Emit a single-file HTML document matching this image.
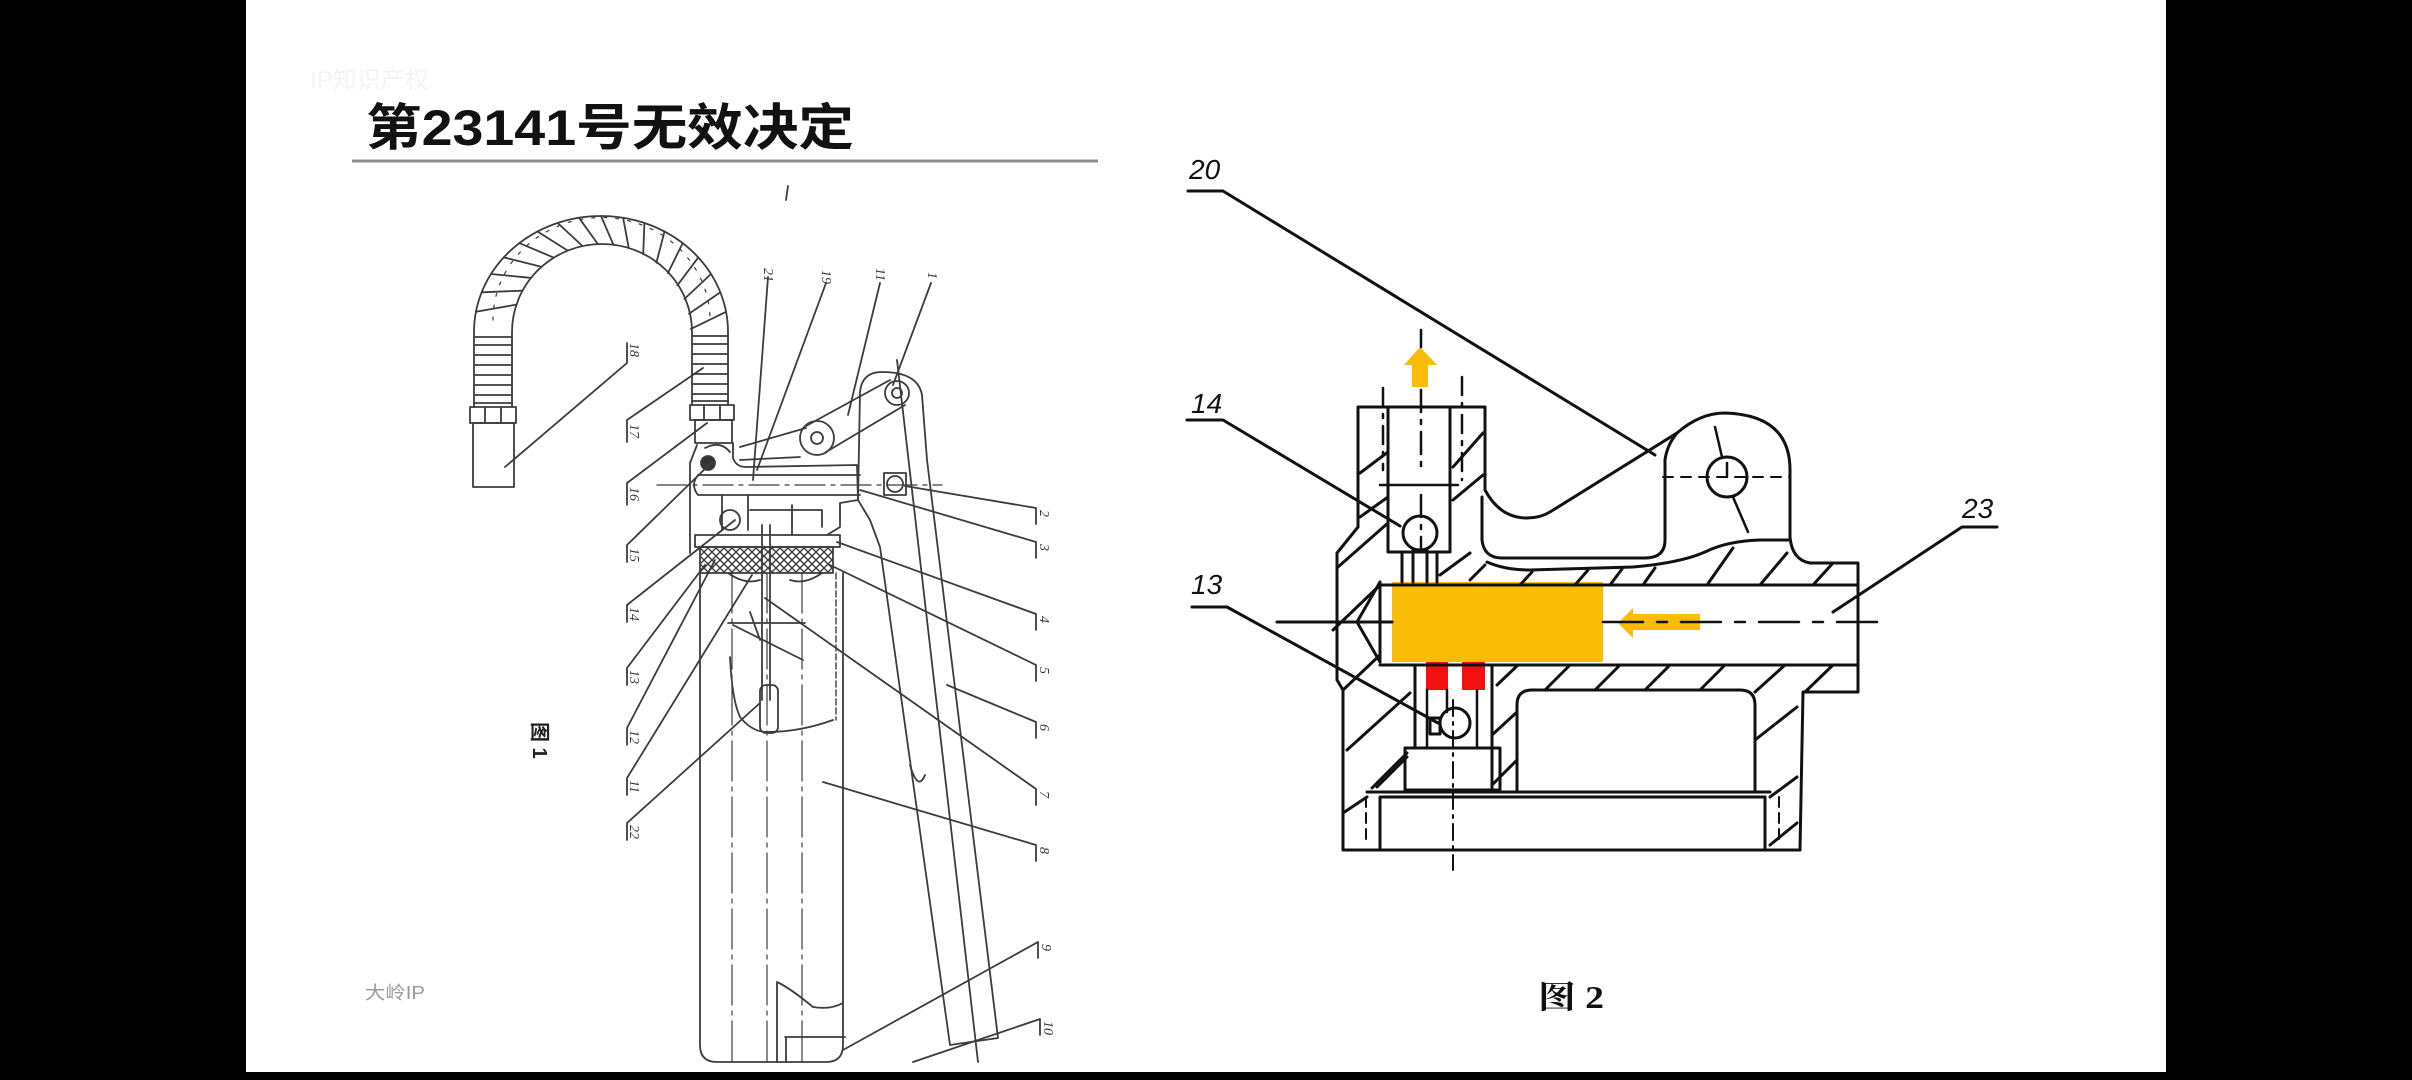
<!DOCTYPE html>
<html><head><meta charset="utf-8">
<style>
html,body{margin:0;padding:0;background:#000;}
body{width:2412px;height:1080px;overflow:hidden;position:relative;}
svg{position:absolute;left:0;top:0;}
</style></head><body>
<svg width="2412" height="1080" viewBox="0 0 2412 1080" xmlns="http://www.w3.org/2000/svg">
<defs>
<pattern id="xh" width="8" height="8" patternUnits="userSpaceOnUse"><path d="M0,0 L8,8 M8,0 L0,8" stroke="#3a3a3a" stroke-width="1.4" fill="none"/></pattern>
</defs>
<rect x="0" y="0" width="2412" height="1080" fill="#000"/>
<rect x="246" y="0" width="1920" height="1072" fill="#fff"/>

<!-- watermark -->
<text x="310" y="88" font-size="24" fill="#f3f3f3" font-family="'Liberation Sans','Noto Sans CJK SC',sans-serif">IP知识产权</text>

<!-- title -->
<text x="366" y="145" font-size="50" font-weight="bold" textLength="488" lengthAdjust="spacingAndGlyphs" fill="#111" font-family="'Liberation Sans','Noto Sans CJK SC',sans-serif">第23141号无效决定</text>
<line x1="352" y1="161" x2="1098" y2="161" stroke="#8c8c8c" stroke-width="3"/>

<!-- ================= LEFT FIGURE ================= -->
<g stroke="#3c3c3c" stroke-width="1.8" fill="none" stroke-linecap="round" stroke-linejoin="round">
  <!-- hose arc -->
  <path d="M474,332 A127,116 0 0 1 728,332"/>
  <path d="M512,332 A90,88 0 0 1 692,332"/>
  <path d="M475.9,311.8 L515.4,304.8 M481.7,292.3 L521.5,290.7 M491,274 L530.1,277.8 M503.7,257.4 L540.8,266.6 M519.3,243.1 L553.3,257.4 M537.5,231.5 L567.3,250.4 M557.6,222.9 L582.3,245.9 M578.9,217.7 L597.9,244.1 M601,216 L613.5,244.9 M623.1,217.7 L628.8,248.3 M644.4,222.9 L643.2,254.3 M664.5,231.5 L656.4,262.7 M682.7,243.1 L667.9,273.1 M698.3,257.4 L677.3,285.4 M711,274 L684.4,299 M720.4,292.3 L689,313.7 M726.1,311.8 L690.9,328.9"/>
  <path d="M493,320 A108,102 0 0 1 710,320" stroke-dasharray="3 9" stroke-width="1.2"/>
  <!-- left leg ribs -->
  <path d="M474,332 L474,407 M512,332 L512,407"/>
  <path d="M474,337 H512 M474,345 H512 M474,355 H512 M474,365 H512 M474,375 H512 M474,385 H512 M474,395 H512 M474,403 H512"/>
  <rect x="470" y="407" width="46" height="16"/>
  <path d="M485,407 V423 M501,407 V423"/>
  <rect x="473" y="423" width="41" height="64"/>
  <!-- right leg ribs -->
  <path d="M692,332 L692,405 M728,332 L728,405"/>
  <path d="M692,336 H728 M692,344 H728 M692,354 H728 M692,364 H728 M692,374 H728 M692,384 H728 M692,394 H728 M692,401 H728"/>
  <rect x="690" y="405" width="44" height="15"/>
  <path d="M704,405 V420 M720,405 V420"/>
  <rect x="695" y="420" width="37" height="23"/>
  <!-- pump head -->
  <path d="M697,445 L690,463 L690,553"/>
  <path d="M733,443 L733,458 Q736,467 746,467 L857,465 L858,500 L840,503 L840,527 L827,535"/>
  <path d="M740,447 L806,428"/>
  <path d="M740,460 L800,457"/>
  <circle cx="817" cy="438" r="17"/>
  <circle cx="817" cy="438" r="6"/>
  <path d="M806,426 L890,380 M826,452 L905,405"/>
  <circle cx="897" cy="393" r="12"/>
  <circle cx="897" cy="393" r="5"/>
  <!-- bore -->
  <path d="M698,475 H860 M698,495 H860 M698,475 Q690,485 698,495"/>
  <path d="M657,485 H942" stroke-dasharray="30 6 4 6" stroke-width="1.3"/>
  <circle cx="895" cy="484" r="8"/>
  <rect x="884" y="473" width="22" height="22"/>
  <circle cx="708" cy="463" r="7" fill="#333"/>
  <path d="M705,448 Q720,440 730,452"/>
  <!-- lower head -->
  <path d="M750,510 H822 V527 M722,495 V530 M748,495 V530 M792,505 V535"/>
  <circle cx="730" cy="520" r="10"/>
  <rect x="695" y="535" width="145" height="12"/>
  <rect x="700" y="547" width="133" height="26" fill="url(#xh)"/>
  <path d="M728,573 Q745,585 760,580 M790,580 Q805,585 822,573"/>
  <!-- barrel -->
  <path d="M700,573 L700,1045 Q700,1062 717,1062 L826,1062 Q843,1062 843,1045 L843,573"/>
  <path d="M732,573 V1062 M767,573 V1062 M802,573 V1062" stroke-dasharray="40 6 4 6" stroke-width="1.2"/>
  <path d="M836,573 V720" stroke-dasharray="6 3" stroke-width="1.4"/>
  <!-- follower / rod -->
  <path d="M762,525 V700 M770,525 V700"/>
  <rect x="760" y="685" width="18" height="48" rx="6"/>
  <path d="M728,623 H805 M733,625 L803,660 M750,612 L760,640"/>
  <path d="M730,657 Q732,700 740,717 Q752,732 767,732 Q800,732 833,720"/>
  <path d="M777,982 Q790,988 813,1007 Q830,1010 843,1003 M777,982 V1062"/>
  <path d="M785,1037 H845 M786,1037 V1062"/>
  <!-- handle -->
  <path d="M858,500 L860,392 Q862,372 882,372 Q918,372 922,395 L927,460 L998,1038 L950,1045 L880,547 L870,520 Z"/>
  <path d="M897,360 L978,1062"/>
  <path d="M910,765 Q918,792 925,775"/>
  <!-- top labels leaders -->
  <path d="M768,277 L753,480 M826,283 L757,470 M880,283 L848,415 M931,283 L893,385"/>
  <path d="M788,186 L786,200"/>
  <!-- right column leaders -->
  <path d="M1036,508 L905,486 M1036,508 V524"/>
  <path d="M1036,542 L860,490 M1036,542 V558"/>
  <path d="M1036,614 L837,542 M1036,614 V630"/>
  <path d="M1036,665 L830,565 M1036,665 V681"/>
  <path d="M1036,722 L947,685 M1036,722 V738"/>
  <path d="M1036,789 L765,598 M1036,789 V805"/>
  <path d="M1036,845 L823,782 M1036,845 V861"/>
  <path d="M1038,942 L843,1050 M1038,942 V958"/>
  <path d="M1040,1019 L913,1062 M1040,1019 V1035"/>
  <!-- left column leaders -->
  <path d="M627,363 L505,467 M627,343 V363"/>
  <path d="M627,420 L703,368 M627,420 V442"/>
  <path d="M627,483 L707,423 M627,483 V505"/>
  <path d="M627,545 L712,462 M627,545 V562"/>
  <path d="M627,605 L735,520 M627,605 V622"/>
  <path d="M627,668 L705,565 M627,668 V685"/>
  <path d="M627,728 L715,560 M627,728 V745"/>
  <path d="M627,778 L752,575 M627,778 V795"/>
  <path d="M627,823 L760,703 M627,823 V840"/>
</g>
<g fill="#3c3c3c" font-size="14" font-family="'Liberation Serif',serif" font-style="italic">
  <text transform="rotate(90 630 343)" x="630" y="343">18</text>
  <text transform="rotate(90 630 424)" x="630" y="424">17</text>
  <text transform="rotate(90 630 487)" x="630" y="487">16</text>
  <text transform="rotate(90 630 548)" x="630" y="548">15</text>
  <text transform="rotate(90 630 607)" x="630" y="607">14</text>
  <text transform="rotate(90 630 670)" x="630" y="670">13</text>
  <text transform="rotate(90 630 730)" x="630" y="730">12</text>
  <text transform="rotate(90 630 780)" x="630" y="780">11</text>
  <text transform="rotate(90 630 825)" x="630" y="825">22</text>
  <text transform="rotate(90 1040 510)" x="1040" y="510">2</text>
  <text transform="rotate(90 1040 544)" x="1040" y="544">3</text>
  <text transform="rotate(90 1040 616)" x="1040" y="616">4</text>
  <text transform="rotate(90 1040 667)" x="1040" y="667">5</text>
  <text transform="rotate(90 1040 724)" x="1040" y="724">6</text>
  <text transform="rotate(90 1040 791)" x="1040" y="791">7</text>
  <text transform="rotate(90 1040 847)" x="1040" y="847">8</text>
  <text transform="rotate(90 1042 944)" x="1042" y="944">9</text>
  <text transform="rotate(90 1044 1021)" x="1044" y="1021">10</text>
  <text transform="rotate(90 764 268)" x="764" y="268">21</text>
  <text transform="rotate(90 822 270)" x="822" y="270">19</text>
  <text transform="rotate(90 876 268)" x="876" y="268">11</text>
  <text transform="rotate(90 928 272)" x="928" y="272">1</text>
</g>
<text transform="rotate(90 533 722)" x="533" y="722" font-size="20" font-weight="bold" fill="#222" font-family="'Liberation Sans','Noto Sans CJK SC',sans-serif">图 1</text>
<text x="365" y="999" font-size="18" fill="#9a9a9a" textLength="60" lengthAdjust="spacingAndGlyphs" font-family="'Liberation Sans','Noto Sans CJK SC',sans-serif">大岭IP</text>

<!-- ================= RIGHT FIGURE ================= -->
<rect x="1392" y="582" width="211" height="80" fill="#FBBC05"/>
<rect x="1426" y="662" width="22" height="28" fill="#F21010"/>
<rect x="1462" y="662" width="23" height="28" fill="#F21010"/>
<polygon points="1412,387 1428,387 1428,365 1437,365 1420,347 1404,365 1412,365" fill="#FBBC05"/>
<polygon points="1700,614 1633,614 1633,608 1618,623 1633,638 1633,630 1700,630" fill="#FBBC05"/>

<g stroke="#111" stroke-width="3" fill="none" stroke-linecap="round" stroke-linejoin="round">
  <path d="M1188,191 H1223 L1655,455"/>
  <path d="M1187,420 H1223 L1400,526"/>
  <path d="M1192,607 H1227 L1438,723"/>
  <path d="M1997,527 H1962 L1833,612"/>
  <path d="M1358,527 L1358,407 L1485,407 L1485,490"/>
  <path d="M1388,407 V552 H1450 V407"/>
  <path d="M1380,485 H1458" stroke-width="2.5"/>
  <path d="M1360,473 L1388,452 M1360,517 L1388,497 M1453,467 L1483,433 M1453,500 L1483,475"/>
  <path d="M1383,388 V470 M1462,377 V480" stroke-dasharray="18 8 4 8" stroke-width="2.5"/>
  <path d="M1421,330 V347 M1421,390 V470 M1421,495 V552" stroke-dasharray="22 8 4 8" stroke-width="2.5"/>
  <circle cx="1420" cy="533" r="17"/>
  <path d="M1402,552 V582 M1413,550 V582 M1427,550 V582 M1437,552 V582"/>
  <path d="M1358,527 L1337,553 L1337,680 L1343,690 L1343,850 L1800,850"/>
  <path d="M1338,567 L1388,523 M1333,630 L1380,585 M1343,690 L1380,655 M1347,750 L1410,693 M1372,788 L1407,753 M1343,813 L1367,797"/>
  <path d="M1380,585 H1858 M1380,665 H1858 M1380,582 V662 M1380,582 L1357,622 L1380,662"/>
  <path d="M1277,622 H1392"/>
  <path d="M1603,622 H1887" stroke-dasharray="40 14 10 14" stroke-width="2.5"/>
  <path d="M1485,490 Q1500,518 1527,518 Q1540,518 1550,512 L1677,433 Q1700,413 1725,413 Q1790,415 1790,470 L1790,537 Q1792,560 1810,563 L1858,563 L1858,692 L1803,692 L1800,850"/>
  <path d="M1482,497 V540 Q1484,558 1502,558 L1645,558 Q1665,558 1665,540 L1665,460 Q1667,445 1677,433"/>
  <path d="M1487,562 Q1505,570 1530,570 L1633,567 Q1680,563 1705,552 Q1727,541 1760,540 L1790,540"/>
  <circle cx="1727" cy="477" r="20"/>
  <path d="M1715,427 L1722,457 M1733,497 L1748,532 M1727,463 V477" stroke-width="2.5"/>
  <path d="M1663,477 H1790" stroke-dasharray="10 8" stroke-width="2"/>
  <path d="M1520,585 L1532,572 M1575,585 L1588,570 M1610,585 L1622,569 M1643,585 L1655,568 M1707,585 L1733,548 M1760,585 L1787,553 M1813,585 L1833,563 M1470,580 L1485,565 M1440,575 L1470,553"/>
  <path d="M1497,685 L1518,665 M1545,690 L1570,665 M1595,690 L1620,665 M1645,690 L1670,665 M1700,690 L1725,665 M1755,692 L1785,665 M1805,692 L1833,665"/>
  <path d="M1415,665 V748 M1492,665 V790"/>
  <path d="M1427,690 V748 M1447,690 V712 M1477,690 V748" stroke-width="2.5"/>
  <circle cx="1455" cy="723" r="15"/>
  <rect x="1430" y="718" width="10" height="16"/>
  <rect x="1405" y="748" width="95" height="42"/>
  <path d="M1377,787 L1407,757 M1492,735 L1517,712 M1492,785 L1517,760"/>
  <path d="M1453,700 V870" stroke-dasharray="16 6 3 6" stroke-width="2"/>
  <path d="M1517,790 L1517,705 Q1517,690 1532,690 L1740,690 Q1755,690 1755,705 L1755,792"/>
  <path d="M1755,740 L1797,707 M1770,797 L1797,777 M1770,845 L1797,823"/>
  <path d="M1367,792 H1770 M1380,797 H1765 M1380,797 V850 M1765,797 V850"/>
  <path d="M1366,797 V845 M1779,797 V845" stroke-dasharray="10 6" stroke-width="2"/>
</g>
<g fill="#111" font-size="28" font-style="italic" font-family="'Liberation Sans',sans-serif">
  <text x="1189" y="179">20</text>
  <text x="1191" y="413">14</text>
  <text x="1191" y="594">13</text>
  <text x="1962" y="518">23</text>
</g>
<text x="1538" y="1008" font-size="32" font-weight="bold" fill="#111" textLength="66" lengthAdjust="spacingAndGlyphs" font-family="'Liberation Serif','Noto Serif CJK SC',serif">图 2</text>
</svg>
</body></html>
